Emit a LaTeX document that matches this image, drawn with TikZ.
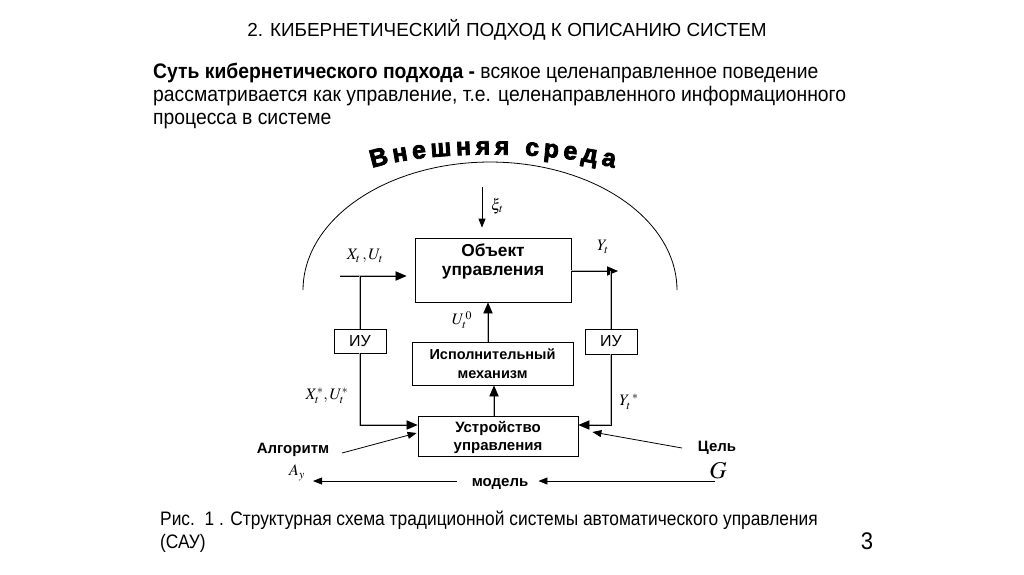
\documentclass[tikz,border=0pt]{standalone}
\usepackage{mathptmx}
\usepackage[no-math]{fontspec}
\setmainfont{Liberation Sans}
\newfontfamily\narrowfont[FakeStretch=0.92]{Liberation Sans}
\newfontfamily\capnarrowfont[FakeStretch=0.89]{Liberation Sans}
\newfontfamily\heavyfont[FakeBold=3]{Liberation Sans}
\usetikzlibrary{arrows.meta, positioning, calc, decorations.text}

\begin{document}
\begin{tikzpicture}[
    x=1pt, y=-1pt,
    block/.style={rectangle, draw, line width=0.8pt, align=center, inner sep=0pt,
                  font=\bfseries\fontsize{15}{18}\selectfont},
    iubox/.style={rectangle, draw, line width=0.8pt, minimum width=52pt, minimum height=24pt,
                  inner sep=0pt, font=\fontsize{16}{18}\selectfont},
    mlab/.style={inner sep=0pt, font=\fontsize{16}{18}\selectfont},
    blab/.style={inner sep=0pt, font=\bfseries\fontsize{15}{18}\selectfont},
    dbl/.style={line width=1pt, preaction={draw=gray!60, line width=2.8pt}},
    dbltip/.style={-{Triangle[length=11pt, width=9pt]}},
    thin arrow/.style={line width=0.8pt, -{Triangle[length=9pt, width=7pt]}},
]
\useasboundingbox (0,0) rectangle (1024,574);

% Title and text
\node[inner sep=0pt, font=\fontsize{18.9}{22}\selectfont] (title) at (507,30)
    {2. КИБЕРНЕТИЧЕСКИЙ ПОДХОД К ОПИСАНИЮ СИСТЕМ};
\node[inner sep=0pt, anchor=north west, align=left,
      font=\narrowfont\fontsize{21}{23}\selectfont] (essence) at (153,63)
    {\textbf{Суть кибернетического подхода -} всякое целенаправленное поведение\\
     рассматривается как управление, т.е. целенаправленного информационного\\
     процесса в системе};

% External environment
\draw[line width=0.8pt] plot[domain=180:360, samples=80] ({490+187*cos(\x)}, {290+128*sin(\x)});
\path[decorate, decoration={text along path, text align=fit to path,
      text={|\heavyfont\bfseries\fontsize{25}{26}\selectfont|Внешняя среда}}]
    (372,168) .. controls (430,150) and (550,150) .. (614,168);

% Blocks
\node[block, minimum width=156pt, minimum height=64pt, font=\bfseries\fontsize{17.3}{19}\selectfont]
    (obj) at (493,270) {Объект\\управления\\[2pt]};
\node[block, minimum width=161pt, minimum height=43pt, font=\bfseries\fontsize{14.5}{19}\selectfont]
    (isp) at (492.5,363.5) {Исполнительный\\механизм};
\node[block, minimum width=160pt, minimum height=40pt] (ustr) at (498,436)
    {\rule{0pt}{15pt}Устройство\\управления};
\node[iubox] (iuL) at (360,341) {ИУ};
\node[iubox, minimum height=25pt] (iuR) at (611,341.5) {ИУ};

% Signals
\coordinate (inS) at (340,276);
\coordinate (xiS) at (482,187);
\draw[thin arrow, shorten >=10pt] (xiS) -- (xiS |- obj.north);
\node[mlab, anchor=west] (xi) at (491,206) {$\xi_{t}$};

\draw[dbl, dbltip, shorten >=8pt] (inS) -- (inS -| obj.west);
\draw[dbl] (iuL.north |- inS) -- (iuL.north);
\draw[dbl, dbltip] (iuL.south) |- ($(ustr.west)+(0,-11)$);
\node[mlab] (xu) at (365,256) {$X_{t}\,, U_{t}$};
\node[mlab] (xus) at (327,396) {$X^{*}_{t}, U^{*}_{t}$};

\coordinate (outE) at (618,271);
\draw[dbl, dbltip] (obj.east |- outE) -- (outE);
\draw[dbl] (iuR.north |- outE) -- (iuR.north);
\draw[dbl, dbltip] (iuR.south) |- ($(ustr.east)+(0,-11)$);
\node[mlab] (yt) at (603,247) {$Y_{t}$};
\node[mlab] (yts) at (629,402) {$Y_{t}^{\;*}$};

\draw[dbl, dbltip] (ustr.north -| 494,0) -- (isp.south -| 494,0);
\draw[dbl, dbltip] (isp.north -| 488,0) -- (obj.south -| 488,0);
\node[mlab] (u0) at (462,320) {$U_{t}^{\,0}$};

% Algorithm, goal and model
\node[blab] (alg) at (293,450) {Алгоритм};
\coordinate (algS) at (342,453);
\draw[thin arrow] (algS) -- ($(ustr.west)+(-1,-3)$);
\node[mlab] (ay) at (297,473) {$A_{y}$};

\node[blab] (goal) at (717,448) {Цель};
\coordinate (goalS) at (682,448);
\draw[thin arrow] (goalS) -- ($(ustr.east)+(14,-4)$);
\node[mlab, font=\fontsize{24}{26}\selectfont] (g) at (718,471) {$G$};

\node[blab] (model) at (500,484) {модель};
\coordinate (modE) at (715,481);
\coordinate (modW) at (313,481);
\draw[thin arrow, shorten >=10pt] (modE) -- (model.east |- modE);
\draw[thin arrow, shorten <=15pt] (model.west |- modW) -- (modW);

% Caption
\node[inner sep=0pt, anchor=north west, align=left,
      font=\capnarrowfont\fontsize{19.5}{23}\selectfont] (caption) at (160,511)
    {Рис.\ \ 1 . Структурная схема традиционной системы автоматического управления\\
     (САУ)};
\node[inner sep=0pt, font=\narrowfont\fontsize{24}{26}\selectfont] (page) at (867,541) {3};
\end{tikzpicture}
\end{document}
